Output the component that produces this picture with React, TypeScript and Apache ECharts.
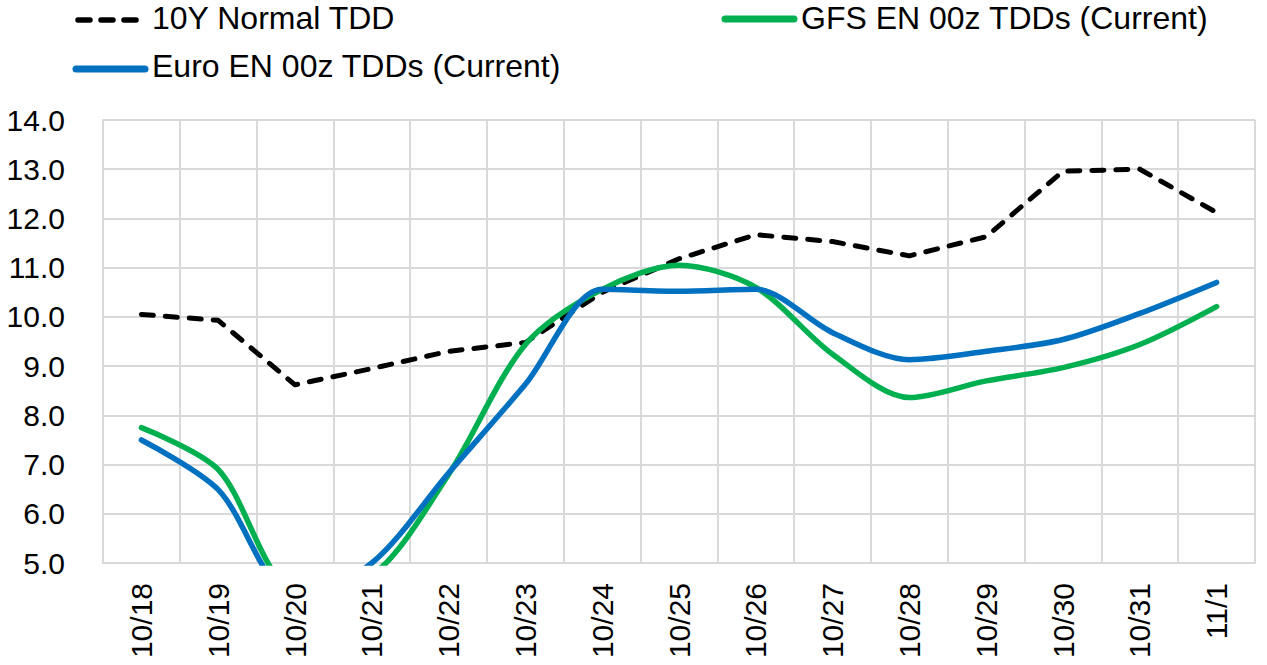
import React, { useEffect, useRef } from "react";
import * as echarts from "echarts";

const categories = ["10/18", "10/19", "10/20", "10/21", "10/22", "10/23", "10/24", "10/25", "10/26", "10/27", "10/28", "10/29", "10/30", "10/31", "11/1"];
const normal10Y = [10.05, 9.93, 8.62, 8.95, 9.3, 9.48, 10.5, 11.18, 11.67, 11.53, 11.24, 11.63, 12.96, 13.0, 12.12];
const gfsEN = [7.75, 6.9, 4.5, 4.75, 6.8, 9.44, 10.56, 11.05, 10.6, 9.24, 8.36, 8.7, 8.97, 9.44, 10.21];
const euroEN = [7.5, 6.49, 4.3, 5.0, 6.83, 8.63, 10.56, 10.52, 10.56, 9.68, 9.13, 9.3, 9.54, 10.07, 10.7];
const yTicks = { min: 5, max: 14, interval: 1 };
const seriesNames = ["10Y Normal TDD", "GFS EN 00z TDDs (Current)", "Euro EN 00z TDDs (Current)"];
const seriesColors = ["#000000", "#00b050", "#0070c0"];

const FONT = "Liberation Sans, Arial, sans-serif";

export default function App() {
  const ref = useRef<HTMLDivElement>(null);
  useEffect(() => {
    if (!ref.current) return;
    const chart = echarts.init(ref.current, undefined, { renderer: "svg" });
    const legendItem = (i: number, x1: number, x2: number, yLine: number, tx: number, ty: number, dashed: boolean) => [
      {
        type: "line",
        shape: { x1, y1: yLine, x2, y2: yLine },
        style: {
          stroke: seriesColors[i],
          lineWidth: dashed ? 5.5 : 7,
          lineCap: "round",
          lineDash: dashed ? [12, 11] : null,
        },
      },
      {
        type: "text",
        x: tx,
        y: ty,
        style: { text: seriesNames[i], fontSize: 32, fontFamily: FONT, fill: "#000", verticalAlign: "middle", align: "left" },
      },
    ];
    chart.setOption({
      animation: false,
      backgroundColor: "#fff",
      graphic: [
        ...legendItem(0, 78, 138, 20, 152, 18, true),
        ...legendItem(1, 725, 794, 19, 801, 18, false),
        ...legendItem(2, 76, 145, 69, 152, 66, false),
      ],
      grid: { left: 103, right: 12, top: 120, bottom: 102, containLabel: false },
      xAxis: {
        type: "category",
        data: categories,
        boundaryGap: true,
        axisLine: { show: true, lineStyle: { color: "#d9d9d9", width: 2 } },
        axisTick: { show: false },
        splitLine: { show: true, lineStyle: { color: "#d9d9d9", width: 2 } },
        axisLabel: { rotate: 90, fontSize: 30, color: "#000", fontFamily: FONT, margin: 20, interval: 0 },
      },
      yAxis: {
        type: "value",
        min: yTicks.min,
        max: yTicks.max,
        interval: yTicks.interval,
        axisLine: { show: true, lineStyle: { color: "#d9d9d9", width: 2 } },
        axisTick: { show: false },
        splitLine: { show: true, lineStyle: { color: "#d9d9d9", width: 2 } },
        axisLabel: { fontSize: 30, color: "#000", fontFamily: FONT, margin: 38, formatter: (v: number) => v.toFixed(1) },
      },
      series: [
        {
          name: seriesNames[0],
          type: "line",
          data: normal10Y,
          symbol: "none",
          smooth: false,
          lineStyle: { color: seriesColors[0], width: 5, type: [12, 12], cap: "round", join: "round" },
          itemStyle: { color: seriesColors[0] },
          z: 3,
        },
        {
          name: seriesNames[1],
          type: "line",
          data: gfsEN,
          symbol: "none",
          smooth: 0.3,
          lineStyle: { color: seriesColors[1], width: 5.5, cap: "round" },
          itemStyle: { color: seriesColors[1] },
          z: 4,
        },
        {
          name: seriesNames[2],
          type: "line",
          data: euroEN,
          symbol: "none",
          smooth: 0.3,
          lineStyle: { color: seriesColors[2], width: 5.5, cap: "round" },
          itemStyle: { color: seriesColors[2] },
          z: 5,
        },
      ],
    });
    return () => chart.dispose();
  }, []);
  return <div ref={ref} style={{ width: 1267, height: 665, position: "absolute", left: 0, top: 0 }} />;
}
